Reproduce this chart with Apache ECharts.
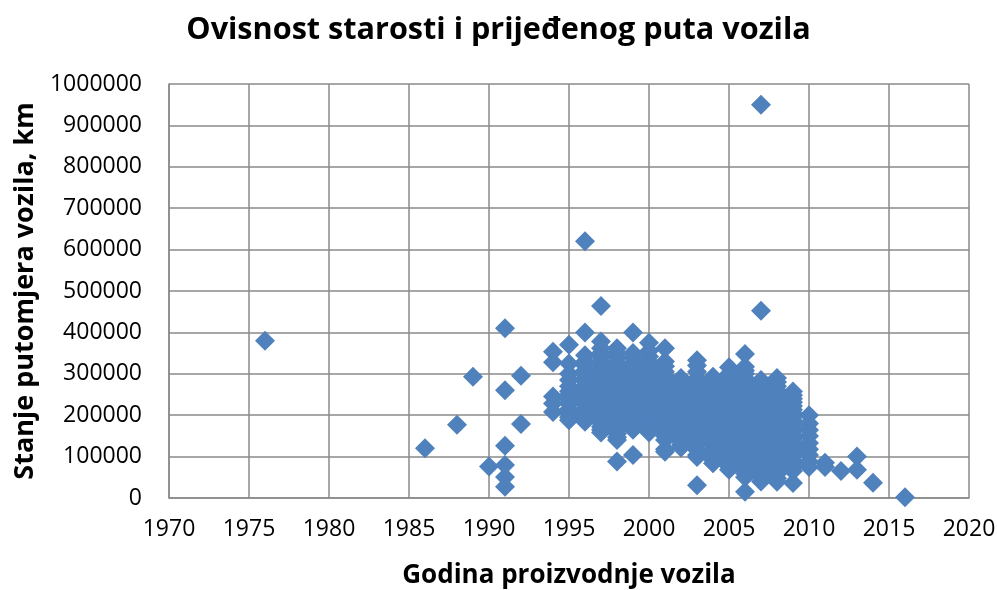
<!DOCTYPE html>
<html>
<head>
<meta charset="utf-8">
<script src="https://cdn.jsdelivr.net/npm/echarts@6/dist/echarts.min.js"></script>
<style>
  html, body { margin: 0; padding: 0; background: #fff; }
  #chart { width: 997px; height: 590px; }
</style>
</head>
<body>
<div id="chart"></div>
<script>
// Production years of the vehicles and the odometer readings (km) recorded for each year
const years = [1976, 1986, 1988, 1989, 1990, 1991, 1992, 1994, 1995, 1996, 1997, 1998, 1999,
  2000, 2001, 2002, 2003, 2004, 2005, 2006, 2007, 2008, 2009, 2010, 2011, 2012, 2013, 2014, 2016];

const odometerByYear = [
  [380000],
  [120000],
  [177000],
  [293000],
  [76000],
  [410000, 260000, 126000, 80000, 51000, 27000],
  [295000, 179000],
  [353000, 328000, 245000, 228000, 208000],
  [370000, 325000, 300000, 285000, 270000, 258000, 250000, 238000, 228000, 215000, 205000, 195000, 188000],
  [620000, 400000, 345000, 330000, 320000, 308000, 300000, 290000, 282000, 272000, 265000, 255000, 245000,
   236000, 225000, 214000, 205000, 194000, 184000],
  [464000, 378000, 362000, 350000, 340000, 330000, 320000, 310000, 300000, 290000, 280000, 270000, 261000,
   250000, 240000, 230000, 220000, 210000, 200000, 190000, 181000, 172000, 165000, 158000],
  [362000, 350000, 340000, 328000, 318000, 309000, 300000, 290000, 280000, 271000, 262000, 254000, 245000,
   236000, 228000, 219000, 210000, 201000, 192000, 183000, 175000, 165000, 155000, 147000, 140000, 88000],
  [400000, 350000, 338000, 325000, 315000, 305000, 296000, 288000, 279000, 270000, 261000, 252000, 243000,
   235000, 226000, 218000, 209000, 200000, 191000, 182000, 174000, 165000, 104000],
  [375000, 355000, 342000, 330000, 320000, 310000, 301000, 292000, 283000, 275000, 266000, 258000, 249000,
   240000, 231000, 222000, 213000, 205000, 196000, 188000, 180000, 172000, 165000, 158000],
  [362000, 330000, 318000, 305000, 295000, 285000, 275000, 265000, 256000, 248000, 239000, 230000, 221000,
   212000, 203000, 195000, 186000, 178000, 169000, 160000, 150000, 140000, 118000, 112000],
  [290000, 280000, 270000, 262000, 255000, 246000, 238000, 230000, 222000, 213000, 205000, 196000, 188000,
   179000, 170000, 161000, 152000, 143000, 135000, 128000, 122000],
  [333000, 320000, 305000, 290000, 280000, 270000, 260000, 250000, 241000, 232000, 223000, 215000, 206000,
   198000, 189000, 180000, 171000, 162000, 153000, 145000, 136000, 128000, 116000, 104000, 99000, 31000],
  [293000, 284000, 275000, 266000, 258000, 249000, 240000, 231000, 222000, 213000, 205000, 196000, 188000,
   179000, 170000, 161000, 152000, 143000, 135000, 126000, 118000, 109000, 100000, 92000, 84000],
  [316000, 300000, 290000, 279000, 268000, 259000, 250000, 241000, 232000, 223000, 215000, 206000, 198000,
   189000, 180000, 171000, 162000, 153000, 145000, 136000, 128000, 119000, 110000, 101000, 93000, 84000,
   76000, 68000],
  [348000, 317000, 308000, 300000, 290000, 280000, 270000, 261000, 252000, 243000, 234000, 225000, 216000,
   208000, 199000, 190000, 181000, 172000, 163000, 155000, 146000, 138000, 129000, 120000, 111000, 102000,
   93000, 85000, 76000, 68000, 59000, 50000, 15000],
  [950000, 452000, 285000, 276000, 268000, 259000, 250000, 241000, 232000, 223000, 215000, 206000, 198000,
   189000, 180000, 171000, 162000, 153000, 145000, 136000, 128000, 119000, 110000, 101000, 92000, 84000,
   75000, 66000, 58000, 49000, 40000],
  [290000, 280000, 270000, 260000, 250000, 241000, 232000, 223000, 215000, 206000, 198000, 189000, 180000,
   171000, 162000, 153000, 145000, 136000, 128000, 119000, 110000, 101000, 92000, 84000, 75000, 66000,
   58000, 48000, 39000],
  [257000, 248000, 240000, 231000, 222000, 213000, 205000, 196000, 188000, 179000, 170000, 161000, 152000,
   143000, 135000, 126000, 118000, 109000, 100000, 91000, 82000, 74000, 65000, 36000],
  [200000, 180000, 164000, 150000, 133000, 118000, 104000, 88000, 75000],
  [85000, 75000],
  [65000],
  [100000, 68000],
  [37000],
  [2000]
];

const titleText = 'Ovisnost starosti i prijeđenog puta vozila';
const xAxisTitle = 'Godina proizvodnje vozila';
const yAxisTitle = 'Stanje putomjera vozila, km';

// Flatten into [year, km] points for the scatter series
const points = [];
years.forEach((y, i) => {
  odometerByYear[i].forEach(km => points.push([y, km]));
});

const fontFamily = '"Open Sans", "Liberation Sans", sans-serif';
const gridColor = '#8a8a8a';

const chart = echarts.init(document.getElementById('chart'), null, { renderer: 'canvas' });
chart.setOption({
  animation: false,
  backgroundColor: '#ffffff',
  title: {
    text: titleText,
    left: 'center',
    top: 10,
    textStyle: { fontFamily, fontSize: 30.6, fontWeight: 'bold', color: '#000' }
  },
  grid: { left: 169, right: 28, top: 84, bottom: 92, containLabel: false, outerBoundsMode: 'none' },
  xAxis: {
    type: 'value',
    min: 1970,
    max: 2020,
    interval: 5,
    name: xAxisTitle,
    nameLocation: 'middle',
    nameGap: 65,
    nameTextStyle: { fontFamily, fontSize: 26, fontWeight: 'bold', color: '#000' },
    axisLine: { show: true, lineStyle: { color: gridColor, width: 1.5 } },
    axisTick: { show: false },
    splitLine: { show: true, lineStyle: { color: gridColor, width: 1.5 } },
    axisLabel: { fontFamily, fontSize: 23, color: '#000', margin: 20, formatter: v => String(v) }
  },
  yAxis: {
    type: 'value',
    min: 0,
    max: 1000000,
    interval: 100000,
    name: yAxisTitle,
    nameLocation: 'middle',
    nameGap: 128,
    nameTextStyle: { fontFamily, fontSize: 27, fontWeight: 'bold', color: '#000' },
    axisLine: { show: true, lineStyle: { color: gridColor, width: 1.5 } },
    axisTick: { show: false },
    splitLine: { show: true, lineStyle: { color: gridColor, width: 1.5 } },
    axisLabel: { fontFamily, fontSize: 23, color: '#000', margin: 27, formatter: v => String(v) }
  },
  series: [{
    type: 'scatter',
    data: points,
    symbol: 'diamond',
    symbolSize: 20,
    itemStyle: { color: '#4F81BD', opacity: 1 }
  }]
});
</script>
</body>
</html>
